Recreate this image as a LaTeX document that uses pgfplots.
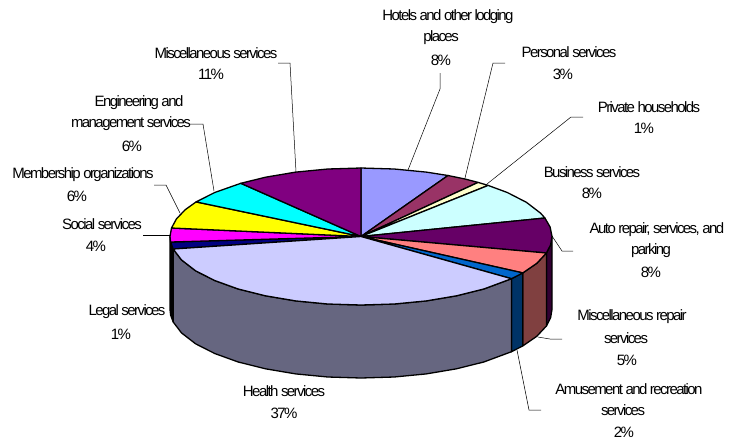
\documentclass[border=0pt]{standalone}
\usepackage{pgfplots}
\pgfplotsset{compat=1.18}
\usepackage{fontspec}
\setmainfont[LetterSpace=-10.5]{Liberation Sans}
\definecolor{c1}{HTML}{9999FF}\definecolor{c2}{HTML}{993366}\definecolor{c3}{HTML}{FFFFCC}
\definecolor{c4}{HTML}{CCFFFF}\definecolor{c5}{HTML}{660066}\definecolor{c6}{HTML}{FF8080}
\definecolor{c7}{HTML}{0066CC}\definecolor{c8}{HTML}{CCCCFF}\definecolor{c9}{HTML}{000080}
\definecolor{c10}{HTML}{FF00FF}\definecolor{c11}{HTML}{FFFF00}\definecolor{c12}{HTML}{00FFFF}
\definecolor{c13}{HTML}{800080}
\definecolor{s5}{HTML}{330033}\definecolor{s6}{HTML}{804040}\definecolor{s7}{HTML}{003366}
\definecolor{s8}{HTML}{666680}\definecolor{s9}{HTML}{000040}
\newcommand{\lab}[3]{\node[anchor=center,inner sep=0pt,font=\fontsize{15}{17}\selectfont] at (axis cs:#1,#2) {#3};}
\begin{document}
\begin{tikzpicture}
\path[use as bounding box] (0,0) rectangle (731pt,440pt);
\begin{axis}[at={(0,0)},anchor=south west,scale only axis,width=731pt,height=440pt,
  xmin=0,xmax=731,ymin=0,ymax=440,y dir=reverse,hide axis,clip=false]
\pgfplotsset{every axis plot/.append style={line join=round}}
% side walls
\addplot[fill=s5,draw=black,line width=1.3pt] coordinates {(552,236.5)(550.6,244.8)(546.4,253)(546.4,326)(550.6,317.8)(552,309.5)} -- cycle;
\addplot[fill=s6,draw=black,line width=1.3pt] coordinates {(546.4,253)(536.8,263.3)(522.8,272.9)(522.8,345.9)(536.8,336.3)(546.4,326)} -- cycle;
\addplot[fill=s7,draw=black,line width=1.3pt] coordinates {(522.8,272.9)(511.5,278.7)(511.5,351.7)(522.8,345.9)} -- cycle;
\addplot[fill=s8,draw=black,line width=1.3pt] coordinates {(511.5,278.7)(483.8,289)(456.5,295.8)(426.3,300.9)(394.2,304)(361,305)(327.8,304)(295.7,300.9)(265.5,295.8)(238.2,289)(214.7,280.5)(195.6,270.8)(181.5,259.9)(173.2,249)
 (173.2,322)(181.5,332.9)(195.6,343.8)(214.7,353.5)(238.2,362)(265.5,368.8)(295.7,373.9)(327.8,377)(361,378)(394.2,377)(426.3,373.9)(456.5,368.8)(483.8,362)(511.5,351.7)} -- cycle;
\addplot[fill=black,draw=black,line width=1.3pt] coordinates {(173.2,249)(170.6,242)(170,236.5)(170,309.5)(170.6,315)(173.2,322)} -- cycle;
% top slices
\addplot[fill=c1,draw=black,line width=1.3pt] coordinates {(361,236.5)(361,168)(394.2,169)(426.3,172.1)(448,175.5)} -- cycle;
\addplot[fill=c2,draw=black,line width=1.3pt] coordinates {(361,236.5)(448,175.5)(465,179)(478.1,182.4)} -- cycle;
\addplot[fill=c3,draw=black,line width=1.3pt] coordinates {(361,236.5)(478.1,182.4)(488.1,185.4)} -- cycle;
\addplot[fill=c4,draw=black,line width=1.3pt] coordinates {(361,236.5)(488.1,185.4)(507.3,192.5)(526.4,202.3)(540.5,213.1)(544.9,218)} -- cycle;
\addplot[fill=c5,draw=black,line width=1.3pt] coordinates {(361,236.5)(544.9,218)(550.1,227)(552,236.5)(550.6,244.8)(546.4,253)} -- cycle;
\addplot[fill=c6,draw=black,line width=1.3pt] coordinates {(361,236.5)(546.4,253)(536.8,263.3)(522.8,272.9)} -- cycle;
\addplot[fill=c7,draw=black,line width=1.3pt] coordinates {(361,236.5)(522.8,272.9)(511.5,278.7)} -- cycle;
\addplot[fill=c9,draw=black,line width=1.3pt] coordinates {(361,236.5)(173.2,249)(170.6,242)} -- cycle;
\addplot[fill=c10,draw=black,line width=1.3pt] coordinates {(361,236.5)(170.6,242)(170,236.5)(171.5,228)} -- cycle;
\addplot[fill=c11,draw=black,line width=1.3pt] coordinates {(361,236.5)(171.5,228)(176.5,218.8)(185.2,209.7)(196.1,201.9)} -- cycle;
\addplot[fill=c12,draw=black,line width=1.3pt] coordinates {(361,236.5)(196.1,201.9)(214.7,192.5)(240.8,183.3)} -- cycle;
\addplot[fill=c13,draw=black,line width=1.3pt] coordinates {(361,236.5)(240.8,183.3)(265.5,177.2)(295.7,172.1)(327.8,169)(361,168)} -- cycle;
\addplot[fill=c8,draw=black,line width=1.3pt] coordinates {(361,236.5)(511.5,278.7)(483.8,289)(456.5,295.8)(426.3,300.9)(394.2,304)(361,305)(327.8,304)(295.7,300.9)(265.5,295.8)(238.2,289)(214.7,280.5)(195.6,270.8)(181.5,259.9)(173.2,249)} -- cycle;
% leaders
\addplot[draw=black,line width=0.5pt] coordinates {(440,73)(440,89)(408,170)};
\addplot[draw=black,line width=0.5pt] coordinates {(505,63)(493,63)(465,178)};
\addplot[draw=black,line width=0.5pt] coordinates {(583,117)(571,117)(487,184)};
\addplot[draw=black,line width=0.5pt] coordinates {(573,251)(562,251)(552,236)};
\addplot[draw=black,line width=0.5pt] coordinates {(562,339)(550,339)(538,337)};
\addplot[draw=black,line width=0.5pt] coordinates {(541,410)(529,410)(517,350)};
\addplot[draw=black,line width=0.5pt] coordinates {(278,63)(290,63)(296,172)};
\addplot[draw=black,line width=0.5pt] coordinates {(190,124)(203,124)(214,191)};
\addplot[draw=black,line width=0.5pt] coordinates {(154,185)(166,185)(180,213)};
\addplot[draw=black,line width=0.5pt] coordinates {(143,235)(170,235)};
% labels
\lab{448}{17}{Hotels and other lodging}\lab{441}{38}{places}\lab{441}{60}{8\%}
\lab{569}{52}{Personal services}\lab{563}{74}{3\%}
\lab{649}{107}{Private households}\lab{644}{128}{1\%}
\lab{592}{172}{Business services}\lab{592}{193}{8\%}
\lab{657}{230}{Auto repair, services, and}\lab{651}{251}{parking}\lab{651}{272}{8\%}
\lab{632}{317}{Miscellaneous repair}\lab{626}{338}{services}\lab{627}{360}{5\%}
\lab{629}{389}{Amusement and recreation}\lab{623}{410}{services}\lab{624}{432}{2\%}
\lab{284}{391}{Health services}\lab{284}{413}{37\%}
\lab{127}{312}{Legal services}\lab{121}{334}{1\%}
\lab{102}{224}{Social services}\lab{96}{246}{4\%}
\lab{83}{175}{Membership organizations}\lab{77}{196}{6\%}
\lab{139}{103}{Engineering and}\lab{131}{124}{management services}\lab{132}{146}{6\%}
\lab{216}{53}{Miscellaneous services}\lab{211}{74}{11\%}
\end{axis}
\end{tikzpicture}
\end{document}
